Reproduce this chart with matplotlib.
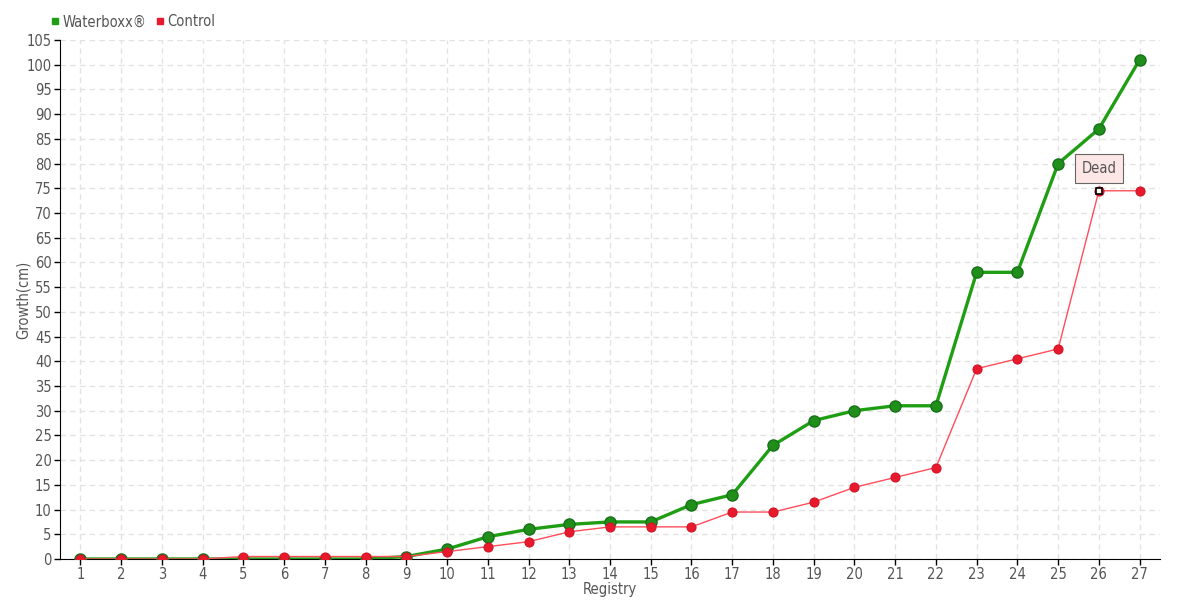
import numpy as np
import matplotlib.pyplot as plt
from matplotlib.lines import Line2D

# данные с графика
registry = list(range(1, 28))
waterboxx = [0, 0, 0, 0, 0, 0, 0, 0, 0.5, 2, 4.5, 6, 7, 7.5, 7.5, 11, 13,
             23, 28, 30, 31, 31, 58, 58, 80, 87, 101]
control = [0, 0, 0, 0, 0.5, 0.5, 0.5, 0.5, 0.5, 1.5, 2.5, 3.5, 5.5, 6.5, 6.5,
           6.5, 9.5, 9.5, 11.5, 14.5, 16.5, 18.5, 38.5, 40.5, 42.5, 74.5, 74.5]
dead_idx = 25  # registry 26
y_ticks = list(range(0, 106, 5))

plt.rcParams['font.family'] = ['DejaVu Sans']
plt.rcParams['font.stretch'] = 'condensed'
txt_color = '#555555'

fig = plt.figure(figsize=(11.8, 6), dpi=100)
ax = fig.add_axes([60 / 1180, 41 / 600, 1100 / 1180, 519 / 600])

green = '#1f9e14'
red = '#e8192c'

ax.plot(registry, waterboxx, color=green, lw=2.4, marker='o', ms=8,
        markerfacecolor='#1f8f1a', markeredgecolor='#17711a', mew=1, zorder=3)
ax.plot(registry, control, color='#ff4d5a', lw=1, marker='o', ms=6.5,
        markerfacecolor=red, markeredgecolor='#d01525', mew=0.8, zorder=4)

# точка "Dead"
ax.plot(registry[dead_idx], control[dead_idx], marker='s', ms=5,
        markerfacecolor='white', markeredgecolor='black', mew=1.2, zorder=6)
ax.annotate('Dead', xy=(registry[dead_idx], control[dead_idx]),
            xytext=(0, 16), textcoords='offset points', ha='center', va='center',
            fontsize=10.5, color=txt_color, zorder=7,
            bbox=dict(boxstyle='square,pad=0.45', fc='#fde6e6', ec='#666666', lw=0.8))

ax.set_xlim(0.5, 27.5)
ax.set_ylim(0, 105)
ax.set_xticks(registry)
ax.set_yticks(y_ticks)
ax.grid(True, color='#e3e3e3', linestyle=(0, (4, 3)), lw=1)
ax.set_axisbelow(True)

for s in ['top', 'right']:
    ax.spines[s].set_visible(False)
ax.spines['left'].set_color('black')
ax.spines['bottom'].set_color('black')
ax.tick_params(axis='both', length=4, width=1, colors='black',
               labelcolor=txt_color, labelsize=10.5, pad=2)

ax.set_xlabel('Registry', fontsize=10.5, color=txt_color, labelpad=0)
ax.set_ylabel('Growth(cm)', fontsize=10.5, color=txt_color, labelpad=-3)

handles = [Line2D([], [], ls='', marker='s', ms=5, color=green),
           Line2D([], [], ls='', marker='s', ms=5, color=red)]
fig.legend(handles, ['Waterboxx®', 'Control'], loc='center left',
           bbox_to_anchor=(45 / 1180, 1 - 22 / 600), ncol=2, frameon=False,
           fontsize=10.5, labelcolor=txt_color, handlelength=0.6,
           handletextpad=0.2, columnspacing=0.6, borderaxespad=0)

fig.savefig('out.png', dpi=100)
